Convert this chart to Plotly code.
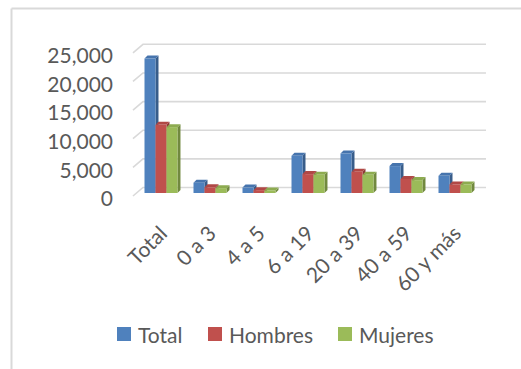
import plotly.graph_objects as go

# --- data -------------------------------------------------------------
categories = ["Total", "0 a 3", "4 a 5", "6 a 19", "20 a 39", "40 a 59", "60 y más"]
series_names = ["Total", "Hombres", "Mujeres"]
total_vals = [23500, 1800, 950, 6500, 6900, 4700, 3000]
hombres_vals = [11900, 1000, 500, 3300, 3700, 2450, 1500]
mujeres_vals = [11500, 850, 450, 3200, 3200, 2250, 1500]
y_ticks = [0, 5000, 10000, 15000, 20000, 25000]

# --- styling ----------------------------------------------------------
front_colors = ["#4F81BD", "#C0504D", "#9BBB59"]
top_colors = ["#4674AD", "#B04845", "#8DAB50"]
side_colors = ["#385D8A", "#8C3836", "#71893F"]
text_color = "#595959"
grid_color = "#D9D9D9"
font_family = "Lato"
font_size = 21

W, H = 521, 369
M_L, M_R, M_T, M_B = 126, 25, 35, 169
X_RANGE = [-0.714, 6.837]
Y_RANGE = [-1222, 27584]
BARGAP = 0.327

plot_w = W - M_L - M_R
plot_h = H - M_T - M_B
px_x = plot_w / (X_RANGE[1] - X_RANGE[0])   # pixels per category unit
px_y = plot_h / (Y_RANGE[1] - Y_RANGE[0])   # pixels per value unit


def paper_x(px):
    return (px - M_L) / plot_w


def paper_y(py):
    return (H - M_B - py) / plot_h


# depth offsets (pixels) for the pseudo-3D look
BAR_DEPTH = 3.0
WALL_DX, WALL_DY = 6.5, 5.5      # back wall relative to bar plane
FRONT_DX, FRONT_DY = -3.5, -3.0  # front edge relative to bar plane

series_vals = [total_vals, hombres_vals, mujeres_vals]
xpos = list(range(len(categories)))

fig = go.Figure()
for name, vals, col in zip(series_names, series_vals, front_colors):
    fig.add_trace(go.Bar(
        x=xpos, y=vals, name=name,
        marker=dict(color=col, line=dict(width=0)),
        hoverinfo="skip", showlegend=False,
    ))

shapes = []
annotations = []

# back-wall gridlines with diagonal floor ticks
wall_len = len(categories) * px_x
for v in y_ticks:
    shapes.append(dict(
        type="path", layer="below",
        xref="x", yref="y", xsizemode="pixel", ysizemode="pixel",
        xanchor=-0.5, yanchor=v,
        path=(f"M{FRONT_DX},{FRONT_DY} L{WALL_DX},{WALL_DY} "
              f"L{WALL_DX + wall_len},{WALL_DY}"),
        line=dict(color=grid_color, width=1.6),
    ))

# top and side faces of each bar, derived from the bar geometry
n_series = len(series_names)
bar_w = (1 - BARGAP) / n_series
dx = BAR_DEPTH / px_x
dy = BAR_DEPTH / px_y
for k, vals in enumerate(series_vals):
    for i, v in enumerate(vals):
        xl = i - (1 - BARGAP) / 2 + k * bar_w
        xr = xl + bar_w
        top = (f"M{xl},{v} L{xl + dx},{v + dy} L{xr + dx},{v + dy} "
               f"L{xr},{v} Z")
        side = (f"M{xr},0 L{xr},{v} L{xr + dx},{v + dy} "
                f"L{xr + dx},{dy} Z")
        shapes.append(dict(type="path", layer="below", xref="x", yref="y",
                           path=side, fillcolor=side_colors[k],
                           line=dict(width=0)))
        shapes.append(dict(type="path", layer="below", xref="x", yref="y",
                           path=top, fillcolor=top_colors[k],
                           line=dict(width=0)))

# legend: coloured squares followed by series names
legend_sq_x = [117, 208, 338]
legend_y = 334
sq = 14
for name, col, x0 in zip(series_names, front_colors, legend_sq_x):
    shapes.append(dict(type="rect", xref="paper", yref="paper",
                       x0=paper_x(x0), x1=paper_x(x0 + sq),
                       y0=paper_y(legend_y + sq / 2), y1=paper_y(legend_y - sq / 2),
                       fillcolor=col, line=dict(width=0)))
    annotations.append(dict(text=name, xref="paper", yref="paper",
                            x=paper_x(x0 + sq + 5), y=paper_y(legend_y),
                            xanchor="left", yanchor="middle", showarrow=False,
                            font=dict(family=font_family, size=font_size,
                                      color=text_color)))

# outer frame (left and top edges)
fx = paper_x(11.5)
shapes.append(dict(type="line", xref="paper", yref="paper",
                   x0=fx, x1=fx, y0=paper_y(372), y1=paper_y(8.5),
                   line=dict(color=grid_color, width=2)))
shapes.append(dict(type="line", xref="paper", yref="paper",
                   x0=fx, x1=paper_x(W + 5), y0=paper_y(8.5), y1=paper_y(8.5),
                   line=dict(color=grid_color, width=2)))

fig.update_layout(
    width=W, height=H,
    margin=dict(l=M_L, r=M_R, t=M_T, b=M_B, autoexpand=False),
    paper_bgcolor="white", plot_bgcolor="rgba(0,0,0,0)",
    barmode="group", bargap=BARGAP, bargroupgap=0,
    font=dict(family=font_family, size=font_size, color=text_color),
    shapes=shapes,
    annotations=annotations,
    showlegend=False,
    xaxis=dict(range=X_RANGE, tickvals=xpos, ticktext=categories,
               tickangle=-45, showgrid=False, zeroline=False, showline=False,
               ticks="", ticklabelstandoff=16, fixedrange=True),
    yaxis=dict(range=Y_RANGE, tickvals=y_ticks, tickformat=",",
               showgrid=False, zeroline=False, showline=False, ticks="",
               ticklabelstandoff=12, ticklabelshift=6, fixedrange=True),
)

fig.write_html("out.html")
